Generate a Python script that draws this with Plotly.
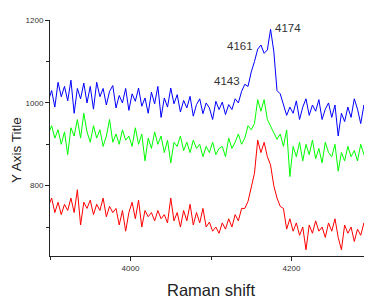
import plotly.graph_objects as go

# Raman shift grid (step 4 cm-1)
raman_shift = [3898 + 4 * k for k in range(102)]

blue_counts = [
    1005, 1030, 990, 1050, 1015, 1040, 1005, 1055, 975, 1035,
    1010, 1048, 1000, 1040, 985, 1050, 1015, 1035, 995, 1028,
    1042, 988, 1018, 1000, 1035, 982, 1022, 1004, 1036, 992,
    1012, 975, 1026, 998, 1040, 965, 1012, 990, 1036, 998,
    1020, 978, 1006, 988, 1016, 968, 996, 1010, 974, 1000,
    988, 960, 1004, 984, 1002, 972, 996, 984, 1010, 1000,
    1028, 1045, 1040, 1075, 1100, 1130, 1140, 1120, 1128, 1178,
    1125, 1030, 1022, 995, 970, 990, 975, 1005, 960, 990,
    1010, 970, 995, 980, 1008, 960, 985, 1000, 965, 995,
    920, 975, 955, 990, 965, 1010, 985, 950, 995, 970,
    945, 960,
]

green_counts = [
    925, 945, 915, 935, 900, 930, 875, 940, 920, 960,
    915, 975, 930, 905, 945, 915, 935, 895, 920, 960,
    905, 925, 900, 935, 910, 920, 895, 940, 900, 925,
    860, 915, 890, 930, 900, 920, 880, 910, 855, 905,
    895, 920, 885, 905, 880, 910, 890, 900, 870, 895,
    880, 905, 875, 890, 895, 870, 915, 890, 905, 925,
    900, 915, 945, 935, 950, 1008, 980, 1008, 960, 945,
    930, 912, 925, 895, 935, 822, 895, 870, 905, 860,
    900, 875, 910, 865, 890, 855, 905, 880, 870, 900,
    835, 880, 860, 895, 870, 885, 860, 900, 875, 895,
    860, 880,
]

red_counts = [
    750, 770, 735, 760, 730, 755, 740, 770, 735, 790,
    705, 760, 745, 765, 730, 755, 740, 770, 725, 750,
    735, 745, 705, 740, 690, 735, 760, 720, 765, 700,
    740, 725, 735, 715, 740, 720, 730, 710, 770, 715,
    735, 700, 740, 715, 755, 705, 735, 710, 745, 700,
    712, 690, 700, 685, 710, 695, 720, 700, 730, 715,
    745, 745, 762, 800, 830, 910, 880, 905, 870, 850,
    800, 770, 750, 745, 695, 720, 690, 710, 680, 700,
    645, 705, 685, 715, 690, 700, 675, 710, 690, 720,
    675, 645, 705, 685, 700, 665, 695, 680, 710, 670,
    705, 705,
]

x_tick_vals = [4000, 4200]
y_tick_vals = [800, 1000, 1200]

peak_labels = ["4143", "4161", "4174"]
peak_label_x = [4120, 4136, 4196]
peak_label_y = [1053, 1138, 1180]

fig = go.Figure()
for vals, col in [(blue_counts, "#0000FF"), (green_counts, "#00FF00"), (red_counts, "#FF0000")]:
    fig.add_trace(go.Scatter(x=raman_shift, y=vals, mode="lines",
                             line=dict(color=col, width=1), showlegend=False,
                             hoverinfo="skip"))

for t, xv, yv in zip(peak_labels, peak_label_x, peak_label_y):
    fig.add_annotation(x=xv, y=yv, xref="x", yref="y", text=t, showarrow=False,
                       xanchor="center", yanchor="middle",
                       font=dict(family="Liberation Sans, Arial", size=11.5, color="#333333"))

fig.add_annotation(x=0.5, y=-0.142, xref="paper", yref="paper", text="Raman shift",
                   showarrow=False, xanchor="center", yanchor="middle",
                   font=dict(family="Liberation Sans, Arial", size=16.5, color="#222222"))
fig.add_annotation(x=-0.102, y=0.45, xref="paper", yref="paper", text="Y Axis Title",
                   showarrow=False, xanchor="center", yanchor="middle", textangle=-90,
                   font=dict(family="Liberation Sans, Arial", size=13.5, color="#222222"))

axis_common = dict(showline=True, linecolor="#222222", linewidth=1, ticks="outside",
                   ticklen=4, tickwidth=1, tickcolor="#222222", showgrid=False,
                   zeroline=False, mirror=False,
                   tickfont=dict(family="Liberation Sans, Arial", size=8, color="#333333"))

fig.update_xaxes(range=[3900, 4300], tickvals=x_tick_vals,
                 minor=dict(ticks="outside", ticklen=3, tickvals=[3900, 4100, 4300],
                            tickcolor="#222222"),
                 **axis_common)
fig.update_yaxes(range=[630, 1200.5], tickvals=y_tick_vals,
                 minor=dict(ticks="outside", ticklen=3, tickvals=[700, 900, 1100],
                            tickcolor="#222222"),
                 **axis_common)

# page body adds an 8px offset; margins compensate so the plot sits where the reference has it
fig.update_layout(width=372, height=298, margin=dict(l=42, r=8, t=8, b=50),
                  plot_bgcolor="white", paper_bgcolor="white")

fig.write_html("out.html")
